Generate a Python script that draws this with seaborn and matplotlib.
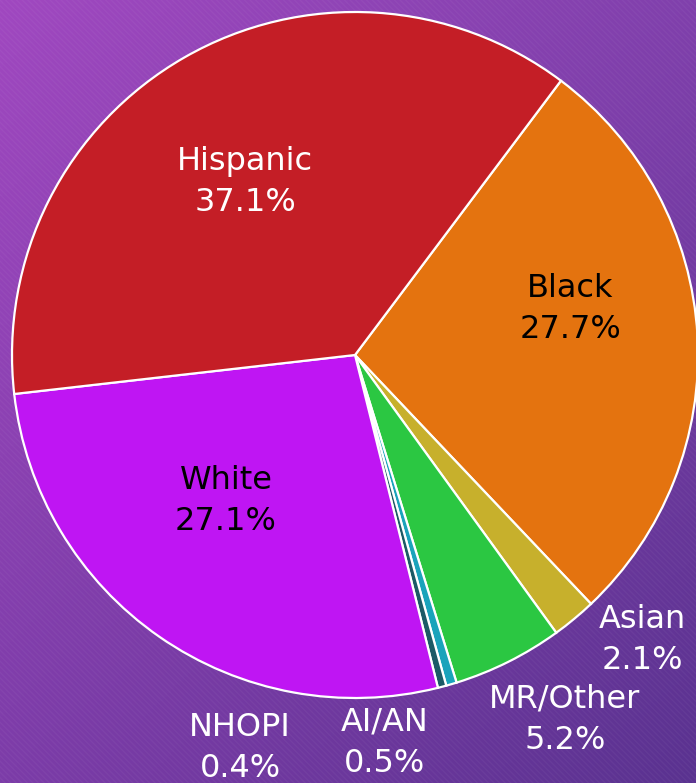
import numpy as np
import seaborn as sns
from matplotlib import pyplot as plt
from matplotlib.patches import Rectangle

sns.set_style("white")
plt.rcParams['font.family'] = ['DejaVu Sans']

# data, clockwise from the Hispanic/Black border
groups = ["Black", "Asian", "MR/Other", "AI/AN", "NHOPI", "White", "Hispanic"]
shares = [27.7, 2.1, 5.2, 0.5, 0.4, 27.1, 37.1]
slice_colors = ["#E4730F", "#C7B02C", "#2BC742", "#1AA3BB", "#1C5A66", "#BF15F3", "#C41E26"]
label_colors = ["black", "white", "white", "white", "white", "black", "white"]
# label anchors (relative to pie radius)
label_x = [0.627, 0.837, 0.612, 0.087, -0.335, -0.376, -0.320]
label_y = [0.134, -0.831, -1.064, -1.131, -1.146, -0.426, 0.504]

fig = plt.figure(figsize=(6.96, 7.83), dpi=100)

# gradient background
bg = fig.add_axes([0, 0, 1, 1])
tl = np.array([0xA0, 0x48, 0xC0]) / 255
tr = np.array([0x80, 0x40, 0xAC]) / 255
bl = np.array([0x7C, 0x3C, 0xA8]) / 255
br = np.array([0x5A, 0x32, 0x90]) / 255
u = np.linspace(0, 1, 200)[None, :, None]
v = np.linspace(0, 1, 200)[:, None, None]
grad = (1 - v) * ((1 - u) * tl + u * tr) + v * ((1 - u) * bl + u * br)
bg.imshow(grad, extent=[0, 1, 0, 1], aspect="auto", origin="upper")
bg.add_patch(Rectangle((0, 0), 1, 1, facecolor="none", edgecolor=(1, 1, 1, 0.04),
                       hatch="\\\\\\\\\\\\", linewidth=0))
bg.set_xlim(0, 1)
bg.set_ylim(0, 1)
bg.axis("off")

ax = fig.add_axes([12 / 696, 85 / 783, 686 / 696, 686 / 783])
ax.pie(shares, colors=slice_colors, startangle=53.1, counterclock=False,
       wedgeprops=dict(edgecolor="white", linewidth=1.6))
ax.set_xlim(-1, 1)
ax.set_ylim(-1, 1)
ax.set_aspect("equal")
ax.axis("off")

for g, s, c, x, y in zip(groups, shares, label_colors, label_x, label_y):
    ax.text(x, y, f"{g}\n{s}%", color=c, ha="center", va="center",
            fontsize=23, linespacing=1.42, clip_on=False)

plt.savefig("out.png", dpi=100)
